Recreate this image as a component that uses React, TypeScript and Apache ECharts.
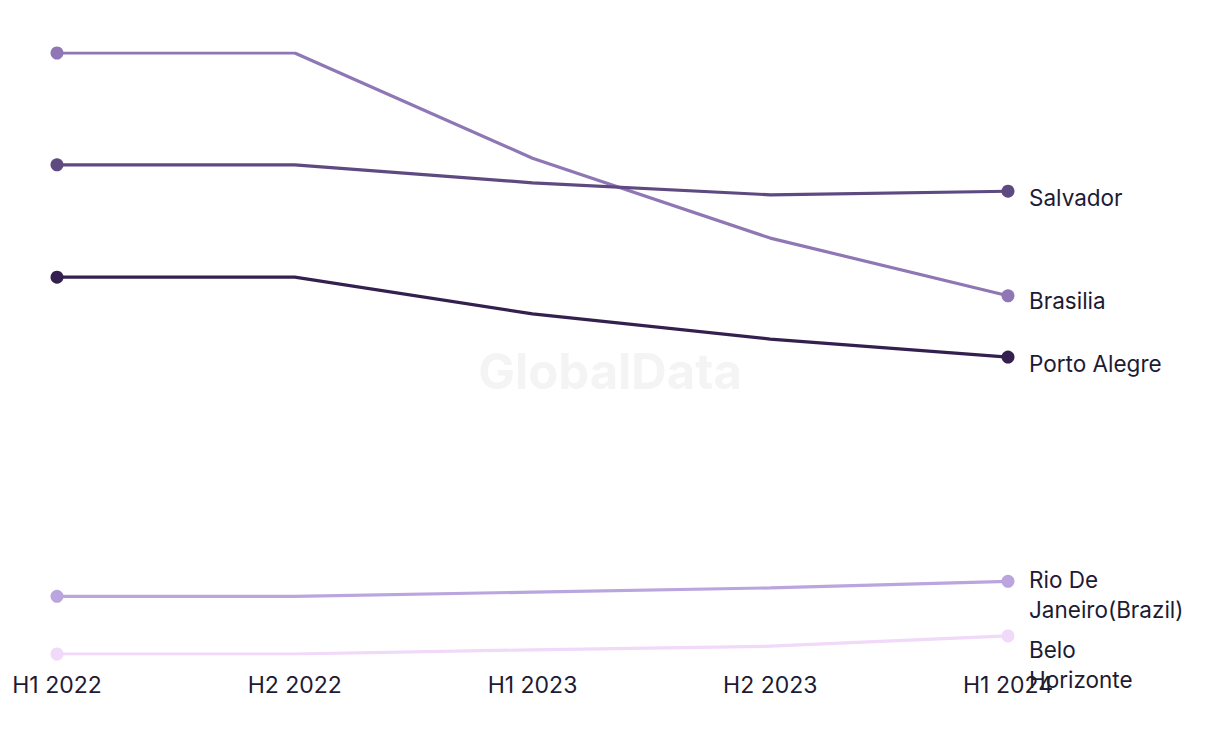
import React, { useEffect, useRef } from "react";
import * as echarts from "echarts";

const categories = ["H1 2022", "H2 2022", "H1 2023", "H2 2023", "H1 2024"];
const seriesNames = ["Brasilia", "Salvador", "Porto Alegre", "Rio De\nJaneiro(Brazil)", "Belo\nHorizonte"];
const brasilia = [100, 100, 82.5, 69.2, 59.6];
const salvador = [81.4, 81.4, 78.4, 76.4, 77.0];
const portoAlegre = [62.7, 62.7, 56.6, 52.4, 49.4];
const rioDeJaneiro = [9.6, 9.6, 10.3, 11.0, 12.1];
const beloHorizonte = [0, 0, 0.7, 1.3, 3.0];

const seriesValues = [brasilia, salvador, portoAlegre, rioDeJaneiro, beloHorizonte];
const colors = ["#8e77b4", "#5e4a80", "#33204f", "#bba5de", "#f0d9f9"];
const labelOffsets = [[0, 5], [0, 6], [0, 6], [0, 13], [0, 29]];

export default function App() {
  const ref = useRef<HTMLDivElement>(null);
  useEffect(() => {
    if (!ref.current) return;
    const chart = echarts.init(ref.current, null, { renderer: "svg" });
    const font = "Inter, 'Noto Sans', sans-serif";
    const last = categories.length - 1;
    chart.setOption({
      animation: false,
      backgroundColor: "#ffffff",
      grid: { left: 57, right: 212, top: 53, bottom: 90 },
      graphic: [
        {
          type: "text",
          left: "center",
          top: 347,
          z: -1,
          style: {
            text: "GlobalData",
            fontSize: 49,
            fontWeight: "bold",
            fontFamily: font,
            fill: "#f4f4f4",
          },
        },
      ],
      xAxis: {
        type: "category",
        data: categories,
        boundaryGap: false,
        axisLine: { show: false },
        axisTick: { show: false },
        splitLine: { show: false },
        axisLabel: {
          color: "#1d1b33",
          fontSize: 23,
          fontFamily: font,
          margin: 19,
        },
      },
      yAxis: { type: "value", min: 0, max: 100, show: false },
      series: seriesValues.map((vals, i) => ({
        name: seriesNames[i],
        type: "line",
        data: vals,
        symbol: "circle",
        symbolSize: (_v: any, p: any) => (p.dataIndex === 0 || p.dataIndex === last ? 13 : 0),
        color: colors[i],
        lineStyle: { width: 3.2, color: colors[i] },
        itemStyle: { color: colors[i] },
        endLabel: {
          show: true,
          formatter: () => seriesNames[i],
          color: "#1d1b33",
          fontSize: 22.5,
          lineHeight: 30,
          fontFamily: font,
          distance: 21,
          offset: labelOffsets[i],
        },
      })),
    });
    return () => chart.dispose();
  }, []);
  return (
    <div
      ref={ref}
      style={{ position: "absolute", left: 0, top: 0, width: 1220, height: 744 }}
    />
  );
}
